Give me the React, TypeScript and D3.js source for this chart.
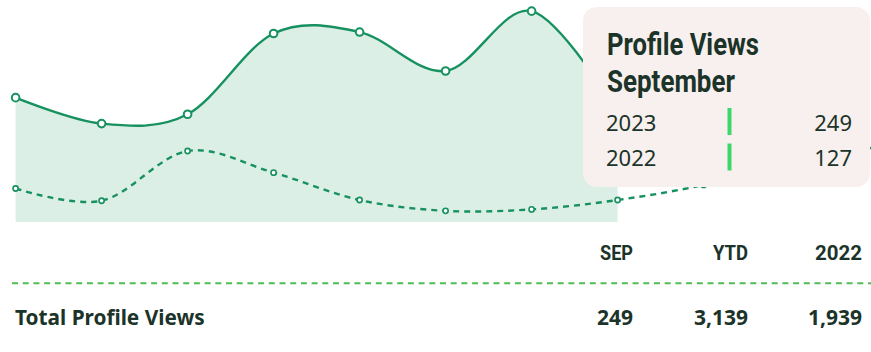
import React from 'react';
import * as d3 from 'd3';

const months = ['Feb', 'Mar', 'Apr', 'May', 'Jun', 'Jul', 'Aug', 'Sep', 'Oct', 'Nov', 'Dec'];
const views2023 = [269, 233, 246, 358, 360, 306, 389, 249];
const views2022 = [143, 126, 195, 165, 127, 112, 114, 127, 148, 180, 200];
const tooltipTitle = ['Profile Views', 'September'];
const tooltipLabels = ['2023', '2022'];
const tooltipValues = [249, 127];
const tableHeaders = ['SEP', 'YTD', '2022'];
const tableRowLabel = 'Total Profile Views';
const tableValues = [249, 3139, 1939];

const W = 871;
const H = 352;
const CHART_BOTTOM = 222;
const GREEN = '#16915f';
const DARK = '#1b3328';
const COND = "Roboto, 'Liberation Sans', sans-serif";
const SANS = "'Noto Sans', 'Open Sans', sans-serif";

export default function App() {
  const x = d3.scalePoint<string>().domain(months).range([15.6, 15.6 + 86 * (months.length - 1)]);
  const y = d3.scaleLinear().domain([96.5, 404.5]).range([CHART_BOTTOM, 0]);

  const d23 = views2023.map((v, i) => ({ m: months[i], v }));
  const d22 = views2022.map((v, i) => ({ m: months[i], v }));

  const area = d3
    .area<{ m: string; v: number }>()
    .x((d) => x(d.m)!)
    .y0(CHART_BOTTOM)
    .y1((d) => y(d.v))
    .curve(d3.curveCardinal);
  const line = d3
    .line<{ m: string; v: number }>()
    .x((d) => x(d.m)!)
    .y((d) => y(d.v))
    .curve(d3.curveCardinal);

  const colRight = [633, 748, 862];
  const headerWidths = [33, 35, 47];
  const titleWidths = [152, 128];
  const fmt = d3.format(',');

  return (
    <svg
      width={W}
      height={H}
      style={{ position: 'absolute', left: 0, top: 0, background: '#fff' }}
    >
      <path d={area(d23)!} fill="#dcefe6" />
      <path d={line(d22)!} fill="none" stroke={GREEN} strokeWidth={2.4} strokeDasharray="6,5" />
      <path d={line(d23)!} fill="none" stroke={GREEN} strokeWidth={2.4} />
      {d22.map((d) => (
        <circle key={'b' + d.m} cx={x(d.m)} cy={y(d.v)} r={2.6} fill="#fff" stroke={GREEN} strokeWidth={1.6} />
      ))}
      {d23.map((d) => (
        <circle key={'a' + d.m} cx={x(d.m)} cy={y(d.v)} r={3.8} fill="#fff" stroke={GREEN} strokeWidth={2} />
      ))}

      <g>
        <rect x={583} y={7} width={287} height={180} rx={14} fill="#f8f0ee" />
        {tooltipTitle.map((t, i) => (
          <text
            key={t}
            x={607}
            y={55 + i * 36.5}
            fontFamily={COND}
            fontWeight={700}
            fontSize={31}
            textLength={titleWidths[i]}
            lengthAdjust="spacingAndGlyphs"
            fill={DARK}
          >
            {t}
          </text>
        ))}
        {tooltipLabels.map((t, i) => (
          <g key={t}>
            <text x={606} y={130.5 + i * 35} fontFamily={SANS} fontSize={22} fill={DARK}>
              {t}
            </text>
            <rect x={727.5} y={108 + i * 35.5} width={4} height={27} fill="#3dd66b" />
            <text x={852} y={130.5 + i * 35} fontFamily={SANS} fontSize={22} fill={DARK} textAnchor="end">
              {tooltipValues[i]}
            </text>
          </g>
        ))}
      </g>

      {tableHeaders.map((h, i) => (
        <text
          key={h}
          x={colRight[i] - headerWidths[i]}
          y={260}
          fontFamily={COND}
          fontWeight={700}
          fontSize={21}
          textLength={headerWidths[i]}
          lengthAdjust="spacingAndGlyphs"
          fill={DARK}
        >
          {h}
        </text>
      ))}
      <line x1={12} x2={W} y1={283.3} y2={283.3} stroke="#4fbd55" strokeWidth={2} strokeDasharray="6,4.7" />
      <text x={15} y={324.5} fontFamily={SANS} fontWeight={700} fontSize={20.8} fill={DARK}>
        {tableRowLabel}
      </text>
      {tableValues.map((v, i) => (
        <text
          key={i}
          x={colRight[i]}
          y={324.5}
          textAnchor="end"
          fontFamily={SANS}
          fontWeight={700}
          fontSize={21}
          fill={DARK}
        >
          {fmt(v)}
        </text>
      ))}
    </svg>
  );
}
